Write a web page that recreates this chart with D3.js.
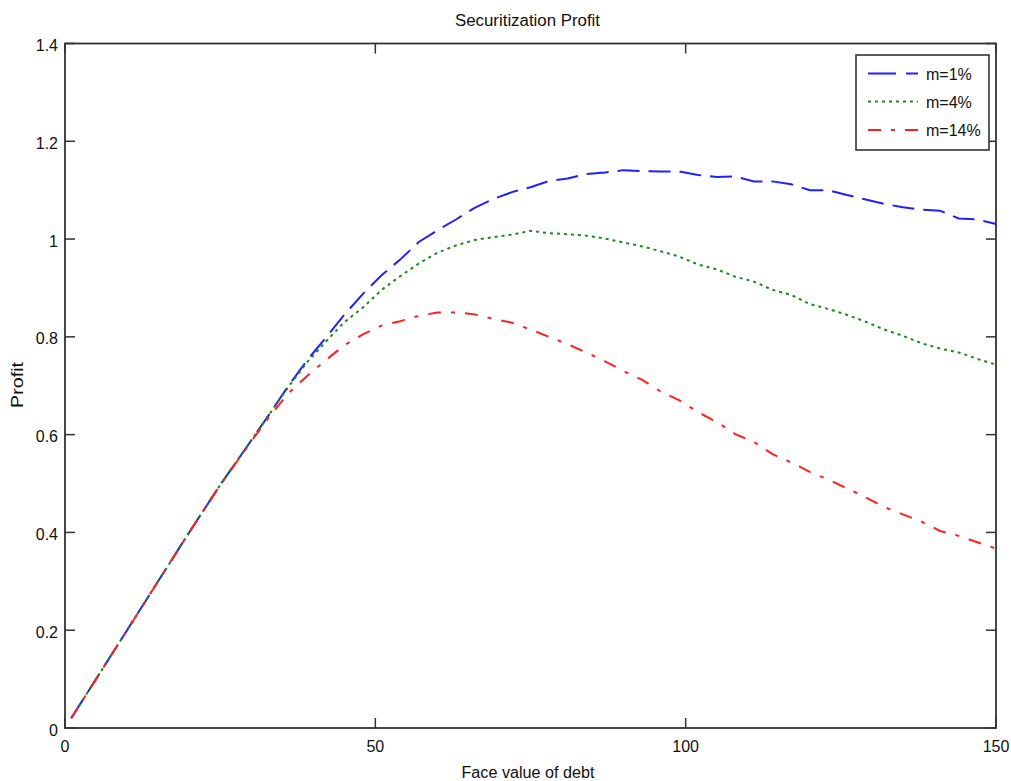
<!DOCTYPE html>
<html>
<head>
<meta charset="utf-8">
<script src="https://cdn.jsdelivr.net/npm/d3@7"></script>
<style>
  html, body { margin: 0; padding: 0; background: #fff; }
  svg { display: block; font-family: "Liberation Sans", Arial, sans-serif; }
</style>
</head>
<body>
<svg id="chart" width="1011" height="781"></svg>
<script>
// ---- data ----
const faceValue = [1, 5, 10, 15, 20, 25, 30, 33, 36, 39, 42, 45, 48, 51, 54, 57, 60, 63, 66, 69, 72, 75, 78, 81, 84, 87, 90, 93, 96, 99, 102, 105, 108, 111, 114, 117, 120, 123, 126, 129, 132, 135, 138, 141, 144, 147, 150];
const profitM1 = [0.02, 0.10, 0.20, 0.30, 0.40, 0.497, 0.588, 0.643, 0.700, 0.752, 0.798, 0.845, 0.888, 0.926, 0.958, 0.994, 1.018, 1.040, 1.064, 1.082, 1.096, 1.106, 1.119, 1.124, 1.133, 1.136, 1.141, 1.139, 1.138, 1.138, 1.131, 1.127, 1.128, 1.118, 1.118, 1.112, 1.100, 1.100, 1.090, 1.081, 1.072, 1.065, 1.060, 1.058, 1.042, 1.040, 1.031];
const profitM4 = [0.02, 0.10, 0.20, 0.30, 0.40, 0.497, 0.588, 0.643, 0.698, 0.748, 0.790, 0.830, 0.860, 0.896, 0.924, 0.950, 0.972, 0.987, 0.998, 1.004, 1.009, 1.017, 1.012, 1.010, 1.007, 1.001, 0.993, 0.985, 0.975, 0.964, 0.948, 0.938, 0.923, 0.913, 0.896, 0.886, 0.867, 0.857, 0.845, 0.831, 0.815, 0.802, 0.787, 0.776, 0.768, 0.755, 0.743];
const profitM14 = [0.02, 0.10, 0.20, 0.30, 0.40, 0.497, 0.586, 0.638, 0.685, 0.720, 0.752, 0.783, 0.805, 0.823, 0.832, 0.843, 0.850, 0.850, 0.846, 0.837, 0.829, 0.815, 0.800, 0.785, 0.768, 0.750, 0.730, 0.712, 0.688, 0.670, 0.646, 0.626, 0.601, 0.585, 0.560, 0.543, 0.524, 0.508, 0.490, 0.472, 0.452, 0.437, 0.422, 0.403, 0.393, 0.380, 0.367];
const seriesNames = ["m=1%", "m=4%", "m=14%"];
const xTicks = [0, 50, 100, 150];
const yTicks = [0, 0.2, 0.4, 0.6, 0.8, 1, 1.2, 1.4];
const titleText = "Securitization Profit";
const xLabel = "Face value of debt";
const yLabel = "Profit";

// ---- styles ----
const seriesValues = [profitM1, profitM4, profitM14];
const colors = ["#2020ff", "#1a8a1a", "#ff2020"];
const dashes = ["22,9", "3,4", "13,10,4,10"];

const svg = d3.select("#chart");
const L = 65, R = 996, T = 43.5, B = 728;
const x = d3.scaleLinear().domain([0, 150]).range([L, R]);
const y = d3.scaleLinear().domain([0, 1.4]).range([B, T]);
const axisColor = "#333";
const textColor = "#111";

// series
const line = d3.line().x(d => x(d[0])).y(d => y(d[1]));
seriesValues.forEach((vals, i) => {
  const pts = faceValue.map((fv, k) => [fv, vals[k]]);
  svg.append("path")
    .datum(pts)
    .attr("d", line)
    .attr("fill", "none")
    .attr("stroke", colors[i])
    .attr("stroke-width", 2)
    .attr("stroke-dasharray", dashes[i]);
});

// box
svg.append("rect")
  .attr("x", L).attr("y", T).attr("width", R - L).attr("height", B - T)
  .attr("fill", "none").attr("stroke", axisColor).attr("stroke-width", 1.8);

// ticks
const tl = 10;
const gx = svg.append("g");
xTicks.forEach(t => {
  gx.append("line").attr("x1", x(t)).attr("x2", x(t)).attr("y1", B).attr("y2", B - tl)
    .attr("stroke", axisColor).attr("stroke-width", 1.5);
  gx.append("line").attr("x1", x(t)).attr("x2", x(t)).attr("y1", T).attr("y2", T + tl)
    .attr("stroke", axisColor).attr("stroke-width", 1.5);
  gx.append("text").attr("x", x(t)).attr("y", 752)
    .attr("text-anchor", "middle").attr("font-size", 16).attr("fill", textColor)
    .text(d3.format("d")(t));
});
const gy = svg.append("g");
yTicks.forEach(t => {
  gy.append("line").attr("x1", L).attr("x2", L + tl).attr("y1", y(t)).attr("y2", y(t))
    .attr("stroke", axisColor).attr("stroke-width", 1.5);
  gy.append("line").attr("x1", R).attr("x2", R - tl).attr("y1", y(t)).attr("y2", y(t))
    .attr("stroke", axisColor).attr("stroke-width", 1.5);
  gy.append("text").attr("x", 58).attr("y", y(t) + 7.5)
    .attr("text-anchor", "end").attr("font-size", 16).attr("fill", textColor)
    .text(t === 0 ? "0" : d3.format("")(t));
});

// title and labels
svg.append("text").attr("x", 527.5).attr("y", 26)
  .attr("text-anchor", "middle").attr("font-size", 16).attr("fill", textColor)
  .attr("textLength", 145).attr("lengthAdjust", "spacingAndGlyphs")
  .text(titleText);
svg.append("text").attr("x", 528).attr("y", 778)
  .attr("text-anchor", "middle").attr("font-size", 16).attr("fill", textColor)
  .attr("textLength", 133).attr("lengthAdjust", "spacingAndGlyphs")
  .text(xLabel);
svg.append("text").attr("transform", "translate(23,385) rotate(-90)")
  .attr("text-anchor", "middle").attr("font-size", 16).attr("fill", textColor)
  .attr("textLength", 46).attr("lengthAdjust", "spacingAndGlyphs")
  .text(yLabel);

// legend
const lg = svg.append("g");
lg.append("rect").attr("x", 856).attr("y", 55).attr("width", 133).attr("height", 95)
  .attr("fill", "#fff").attr("stroke", axisColor).attr("stroke-width", 1.6);
const legY = [73.5, 101.5, 130];
seriesNames.forEach((name, i) => {
  lg.append("line").attr("x1", 868).attr("x2", 918).attr("y1", legY[i]).attr("y2", legY[i])
    .attr("stroke", colors[i]).attr("stroke-width", 2)
    .attr("stroke-dasharray", i === 0 ? "28,10,12" : dashes[i]);
  lg.append("text").attr("x", 926).attr("y", legY[i] + 6)
    .attr("font-size", 16).attr("fill", textColor).text(name);
});
</script>
</body>
</html>
